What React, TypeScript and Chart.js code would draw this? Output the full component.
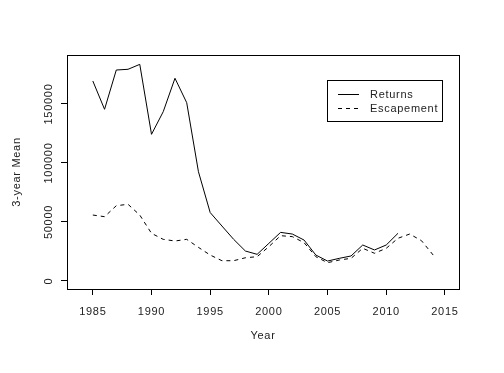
import React, { useEffect, useRef } from "react";
import { Chart, registerables } from "chart.js";

Chart.register(...registerables);

const YEARS = [1985, 1986, 1987, 1988, 1989, 1990, 1991, 1992, 1993, 1994, 1995, 1996, 1997, 1998, 1999, 2000, 2001, 2002, 2003, 2004, 2005, 2006, 2007, 2008, 2009, 2010, 2011, 2012, 2013, 2014];
const RETURNS = [169500, 145500, 178800, 179400, 183600, 124300, 143500, 171800, 151100, 92600, 58000, 46600, 35300, 25400, 22600, 31900, 41200, 39800, 34700, 22000, 16900, 19200, 21200, 30500, 26300, 30500, 40400];
const ESCAPEMENT = [55900, 54500, 63800, 65000, 55900, 40400, 35300, 33900, 35300, 28500, 22000, 17200, 17200, 19700, 20600, 29100, 38400, 37600, 32500, 20600, 15500, 17800, 19200, 27700, 23500, 27700, 36200, 39800, 34200, 22000];
const X_TICKS = [1985, 1990, 1995, 2000, 2005, 2010, 2015];
const Y_TICKS = [0, 50000, 100000, 150000];
const SERIES_LABELS = ["Returns", "Escapement"];
const X_TITLE = "Year";
const Y_TITLE = "3-year Mean";

const FONT_FAMILY = "'Liberation Sans', Arial, sans-serif";
const TEXT_COLOR = "#222";

export default function App() {
  const ref = useRef<HTMLCanvasElement | null>(null);

  useEffect(() => {
    const canvas = ref.current;
    if (!canvas) return;

    const spacingPlugin = {
      id: "spacing",
      beforeDraw(chart: any) {
        chart.ctx.letterSpacing = "0.7px";
      },
    };

    const boxPlugin = {
      id: "box",
      afterDraw(chart: any) {
        const { ctx, chartArea } = chart;
        ctx.save();
        ctx.strokeStyle = "#000";
        ctx.lineWidth = 1;
        ctx.setLineDash([]);
        ctx.strokeRect(
          Math.round(chartArea.left) + 0.5,
          Math.round(chartArea.top) + 0.5,
          Math.round(chartArea.right - chartArea.left),
          Math.round(chartArea.bottom - chartArea.top)
        );
        // y tick labels rotated (R style)
        const ys = chart.scales.y;
        ctx.fillStyle = TEXT_COLOR;
        ctx.font = `11px ${FONT_FAMILY}`;
        ctx.textAlign = "center";
        ctx.textBaseline = "middle";
        ys.ticks.forEach((t: any) => {
          const py = ys.getPixelForValue(t.value);
          ctx.save();
          ctx.translate(49, py);
          ctx.rotate(-Math.PI / 2);
          ctx.fillText(String(t.value), 0, 0);
          ctx.restore();
        });
        // legend
        const lx = 327.5, ly = 80.5, lw = 115, lh = 41;
        ctx.fillStyle = "#fff";
        ctx.fillRect(lx, ly, lw, lh);
        ctx.strokeStyle = "#000";
        ctx.strokeRect(lx, ly, lw, lh);
        chart.data.datasets.forEach((ds: any, i: number) => {
          const yy = 94.5 + i * 14;
          ctx.beginPath();
          ctx.setLineDash(ds.borderDash || []);
          ctx.moveTo(338, yy);
          ctx.lineTo(359, yy);
          ctx.stroke();
          ctx.setLineDash([]);
          ctx.fillStyle = TEXT_COLOR;
          ctx.textAlign = "left";
          ctx.textBaseline = "middle";
          ctx.fillText(ds.label, 370, yy);
        });
        ctx.restore();
      },
    };

    const chart = new Chart(canvas, {
      type: "line",
      data: {
        datasets: [
          {
            label: SERIES_LABELS[0],
            data: RETURNS.map((v, i) => ({ x: YEARS[i], y: v })),
            borderColor: "#000",
            borderWidth: 1,
            pointRadius: 0,
            tension: 0,
            fill: false,
          },
          {
            label: SERIES_LABELS[1],
            data: ESCAPEMENT.map((v, i) => ({ x: YEARS[i], y: v })),
            borderColor: "#000",
            borderWidth: 1,
            borderDash: [4, 4],
            pointRadius: 0,
            tension: 0,
            fill: false,
          },
        ],
      },
      options: {
        responsive: false,
        animation: false,
        devicePixelRatio: 1,
        layout: { padding: { left: 0, top: 55, right: 45, bottom: 0 } },
        plugins: {
          legend: { display: false },
          tooltip: { enabled: false },
        },
        scales: {
          x: {
            type: "linear",
            min: 1982.8,
            max: 2016.2,
            afterBuildTicks(scale: any) {
              scale.ticks = X_TICKS.map((v) => ({ value: v }));
            },
            afterFit(scale: any) {
              scale.height = 84;
            },
            grid: {
              drawOnChartArea: false,
              drawTicks: true,
              tickLength: 6,
              tickColor: "#000",
              tickWidth: 1,
            },
            border: { display: true, color: "#000", width: 1 },
            ticks: {
              color: TEXT_COLOR,
              font: { family: FONT_FAMILY, size: 11 },
              padding: 10,
              maxRotation: 0,
              minRotation: 0,
              callback: (v: any) => String(v),
            },
            title: {
              display: true,
              text: X_TITLE,
              color: TEXT_COLOR,
              font: { family: FONT_FAMILY, size: 11 },
              padding: { top: 0, bottom: 30 },
            },
          },
          y: {
            type: "linear",
            min: -6780,
            max: 191525,
            afterBuildTicks(scale: any) {
              scale.ticks = Y_TICKS.map((v) => ({ value: v }));
            },
            afterFit(scale: any) {
              scale.width = 67;
            },
            grid: {
              drawOnChartArea: false,
              drawTicks: true,
              tickLength: 6,
              tickColor: "#000",
              tickWidth: 1,
            },
            border: { display: true, color: "#000", width: 1 },
            ticks: { display: false },
            title: {
              display: true,
              text: Y_TITLE,
              color: TEXT_COLOR,
              font: { family: FONT_FAMILY, size: 11 },
              padding: { top: 10, bottom: 0 },
            },
          },
        },
      },
      plugins: [spacingPlugin, boxPlugin],
    } as any);

    return () => chart.destroy();
  }, []);

  return (
    <div style={{ position: "fixed", left: 0, top: 0, width: 504, height: 373, background: "#fff" }}>
      <canvas ref={ref} width={504} height={373} style={{ width: 504, height: 373, display: "block" }} />
    </div>
  );
}
